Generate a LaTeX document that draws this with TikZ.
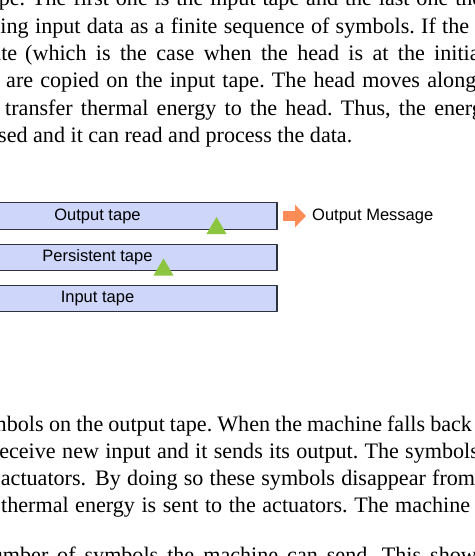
\documentclass[tikz,border=0pt]{standalone}
\usepackage{fontspec}
\setmainfont{Liberation Serif}
\setsansfont{Liberation Sans}
\usetikzlibrary{arrows.meta}
\frenchspacing

\definecolor{tapefill}{RGB}{206,214,250}
\definecolor{tapeline}{RGB}{45,50,60}
\definecolor{headgreen}{RGB}{140,198,65}
\definecolor{msgorange}{RGB}{252,140,85}

\newlength\lastw
% justified row: name, baseline, x of first whole word, x of last word,
% gap after the cut word, word cut by the left edge, words between, last word
\newcommand\textrow[8]{%
  \node[bodytext] (#1) at (#3,#2)
    {\settowidth\lastw{#8}\llap{#6\hspace{#5pt}}%
     \makebox[\dimexpr#4pt-#3pt+\lastw\relax][s]{#7 #8}};}

\begin{document}
\begin{tikzpicture}[x=1pt,y=-1pt,line join=round,
  bodytext/.style={anchor=base west,inner sep=0pt,
    font=\fontsize{22.1}{26}\selectfont},
  tape/.style={draw=tapeline,line width=1.4pt,fill=tapefill,
    minimum width=359pt,minimum height=26.5pt,inner sep=0pt,
    font=\sffamily\fontsize{16.5}{19}\selectfont},
  msgtext/.style={anchor=west,inner sep=0pt,
    font=\sffamily\fontsize{16.5}{19}\selectfont},
  outarrow/.style={msgorange,line width=10.5pt,
    -{Triangle[length=11pt,width=22pt]}}]
  \useasboundingbox (0,0) rectangle (474,556);
  \clip (0,0) rectangle (474,556);

  % text above the figure
  \textrow{l1}{6}{32}{455}{7}{tape.}{The first one is the input tape and the last one}{the}
  \textrow{l2}{33.5}{35}{442}{6.5}{ing}{input data as a finite sequence of symbols. If}{the}
  \textrow{l3}{61}{25}{434}{8}{state}{(which is the case when the head is at the}{initial}
  \textrow{l4}{88}{6}{427}{7}{}{are copied on the input tape. The head moves}{along}
  \textrow{l5}{115.5}{5}{434}{8}{}{transfer thermal energy to the head. Thus, the}{energy}
  \node[bodytext] (l6) at (33,143)
    {\llap{used\hspace{5.5pt}}and it can read and process the data.};

  % tapes
  \node[tape] (output) at (97.5,216) {Output tape};
  \node[tape] (persistent) at (97.5,257.5) {Persistent tape};
  \node[tape] (input) at (97.5,298.5) {Input tape};
  \foreach \hx/\hy in {216.5/234,163.5/275.5}
    \fill[headgreen] (\hx,\hy) ++(-10,0) -- ++(10,-17) -- ++(10,17) -- cycle;

  \node[msgtext] (msg) at (312,216) {Output Message};
  \draw[outarrow] ([xshift=5pt]output.east) -- ([xshift=-6pt]msg.west);

  % text below the figure
  \textrow{l7}{431}{49}{430}{5.5}{symbols}{on the output tape. When the machine falls}{back}
  \textrow{l8}{458}{62}{405}{6.5}{receive}{new input and it sends its output. The}{symbols}
  \textrow{l9}{485}{95}{432}{9}{actuators.}{By doing so these symbols disappear}{from}
  \textrow{l10}{512}{75}{395}{6.5}{thermal}{energy is sent to the actuators. The}{machine}
  \textrow{l11}{562}{57}{430}{8.8}{number}{of symbols the machine can send. This}{shows}
\end{tikzpicture}
\end{document}
